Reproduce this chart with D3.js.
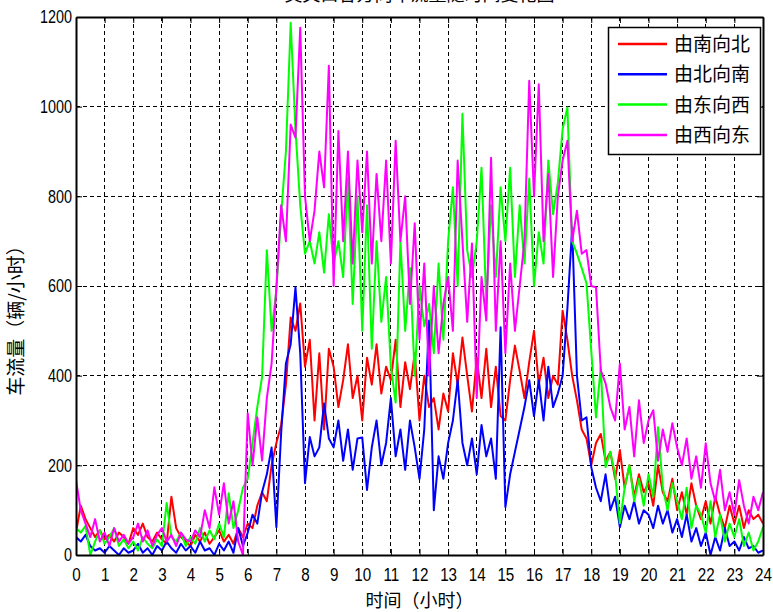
<!DOCTYPE html>
<html><head><meta charset="utf-8">
<script src="https://cdn.jsdelivr.net/npm/d3@7"></script>
<style>body{margin:0;background:#fff;overflow:hidden}</style></head>
<body><svg id="c" width="773" height="612"></svg>
<script>
// time stamps every 10 minutes (hours)
const times = d3.range(145).map(i => i / 6);
const xTickLabels = ["0","1","2","3","4","5","6","7","8","9","10","11","12","13","14","15","16","17","18","19","20","21","22","23","24"];
const yTickLabels = ["0","200","400","600","800","1000","1200"];
const seriesNames = ["由南向北","由北向南","由东向西","由西向东"];
const seriesColors = ["#ff0000","#0000ff","#00ff00","#ff00ff"];

const southNorth = [
 50,110,80,60,40,55, 35,45,30,50,40,25, 60,45,70,40,30,50, 35,25,130,60,40,30,
 20,45,30,50,25,40, 55,30,45,25,60,40, 70,60,110,140,120,200, 250,290,380,530,500,561,
 420,480,300,450,280,460, 420,330,390,470,350,400, 300,440,380,470,360,420, 390,480,330,430,370,450,
 300,400,330,350,280,360, 320,450,380,485,400,320, 440,350,460,330,420,310, 300,390,467,410,350,430,
 500,380,440,350,400,380, 545,480,400,345,280,260, 200,250,270,210,230,170, 234,150,200,130,180,140,
 160,110,200,140,120,170, 100,140,90,160,110,80, 120,70,130,90,60,110, 70,110,60,100,80,90, 70];
const northSouth = [
 40,30,45,20,10,15, 5,20,10,0,15,5, 10,25,5,15,0,20, 10,30,15,5,25,10,
 20,5,30,10,15,0, 25,10,30,5,60,20, 50,90,70,140,180,240, 62,272,427,470,597,450,
 160,263,220,240,338,260, 240,300,210,280,190,260, 262,145,240,300,200,250, 350,220,280,190,300,240,
 170,280,523,100,220,170, 250,300,390,250,200,260, 180,290,220,260,170,508, 107,180,230,280,330,390,
 310,390,300,420,330,360, 400,550,730,400,300,307, 196,150,120,180,100,130, 62,110,80,120,70,100,
 90,60,110,70,100,50, 80,40,90,30,60,20, 50,0,40,10,60,20, 30,10,40,15,20,5, 10];
const eastWest = [
 60,50,65,0,30,55, 25,40,60,20,35,15, 30,10,40,25,15,35, 20,116,40,30,50,20,
 40,25,60,30,55,35, 70,40,138,60,100,150, 170,250,330,397,680,500, 590,760,900,1187,950,780,
 672,700,650,720,630,760, 650,700,620,840,560,800, 500,780,460,700,520,620, 420,340,700,500,640,400,
 600,510,560,450,650,480, 700,820,600,984,680,620, 700,864,560,780,620,820, 700,864,620,780,650,840,
 600,720,650,880,760,830, 950,998,700,672,640,606, 456,307,419,196,230,180, 71,150,200,120,170,110,
 180,130,285,150,100,160, 120,80,150,60,110,90, 50,120,40,90,30,70, 40,80,20,50,10,30, 62];
const westEast = [
 167,100,70,40,80,30, 50,20,60,30,45,25, 40,70,30,55,20,45, 60,30,45,20,50,35,
 30,55,40,100,60,151, 90,160,70,120,30,0, 316,200,307,211,350,427, 597,780,700,960,931,1176,
 800,700,768,900,820,1091, 600,946,700,900,650,880, 720,900,650,850,700,880, 650,924,700,800,560,740,
 480,650,400,600,450,560, 620,500,880,700,520,695, 350,620,523,886,500,700, 450,650,500,600,700,1058,
 800,1050,700,850,620,800, 880,924,700,768,672,680, 600,597,412,383,330,300, 427,280,330,220,345,250,
 300,323,210,280,230,294, 240,200,260,170,220,150, 249,160,120,190,100,140, 90,167,110,70,130,100, 140];

const seriesValues = [southNorth, northSouth, eastWest, westEast];

const W = 773, H = 612;
const m = {l: 76, r: 763, t: 17, b: 555};
const svg = d3.select("#c");
svg.append("rect").attr("width", W).attr("height", H).attr("fill", "#fff");

const x = d3.scaleLinear().domain([0, 24]).range([m.l, m.r]);
const y = d3.scaleLinear().domain([0, 1200]).range([m.b, m.t]);
const xTicks = xTickLabels.map(Number);
const yTicks = yTickLabels.map(Number);

const font = "'Liberation Sans', Arial, sans-serif";
const cjk = "'Noto Sans CJK SC', sans-serif";

// title (clipped at top, as in the source image)
svg.append("text").attr("x", (m.l + m.r) / 2).attr("y", 1)
  .attr("text-anchor", "middle").attr("font-family", cjk).attr("font-size", 18)
  .attr("fill", "#000").text("交叉口各方向车流量随时间变化图");

// grid
const grid = svg.append("g").attr("stroke", "#000").attr("stroke-width", 1)
  .attr("stroke-dasharray", "4,3").attr("shape-rendering", "crispEdges");
grid.selectAll(".gx").data(xTicks.slice(1, -1)).join("line")
  .attr("x1", d => x(d)).attr("x2", d => x(d)).attr("y1", m.t).attr("y2", m.b);
grid.selectAll(".gy").data(yTicks.slice(1, -1)).join("line")
  .attr("y1", d => y(d)).attr("y2", d => y(d)).attr("x1", m.l).attr("x2", m.r);

// lines
svg.append("clipPath").attr("id", "pc").append("rect")
  .attr("x", m.l).attr("y", m.t).attr("width", m.r - m.l).attr("height", m.b - m.t);
const line = d3.line().x((d, i) => x(times[i])).y(d => y(d));
const lg = svg.append("g").attr("clip-path", "url(#pc)");
seriesValues.forEach((vals, k) => {
  lg.append("path").datum(vals).attr("d", line).attr("fill", "none")
    .attr("stroke", seriesColors[k]).attr("stroke-width", 2).attr("stroke-linejoin", "round");
});

// axes
const fmtX = (d, i) => xTickLabels[i];
const fmtY = (d, i) => yTickLabels[i];
const gx = svg.append("g").attr("transform", `translate(0,${m.b})`)
  .call(d3.axisBottom(x).tickValues(xTicks).tickFormat(fmtX).tickSize(-6).tickSizeOuter(0).tickPadding(13));
const gy = svg.append("g").attr("transform", `translate(${m.l},0)`)
  .call(d3.axisLeft(y).tickValues(yTicks).tickFormat(fmtY).tickSize(-6).tickSizeOuter(0).tickPadding(4));
const gt = svg.append("g").attr("transform", `translate(0,${m.t})`)
  .call(d3.axisTop(x).tickValues(xTicks).tickFormat("").tickSize(-6).tickSizeOuter(0));
const gr = svg.append("g").attr("transform", `translate(${m.r},0)`)
  .call(d3.axisRight(y).tickValues(yTicks).tickFormat("").tickSize(-6).tickSizeOuter(0));
[gx, gy, gt, gr].forEach(g => {
  g.select(".domain").attr("stroke", "#000").attr("stroke-width", 2);
  g.selectAll(".tick line").attr("stroke", "#000").attr("stroke-width", 1);
});
const sx = 0.8;
gx.selectAll("text").attr("font-family", font).attr("font-size", 19).attr("fill", "#000")
  .attr("transform", `scale(${sx},1)`);
gy.selectAll("text").attr("font-family", font).attr("font-size", 18).attr("fill", "#000")
  .attr("x", -4 / sx).attr("transform", `scale(${sx},1)`);

// axis titles
svg.append("text").attr("x", (m.l + m.r) / 2).attr("y", 607).attr("text-anchor", "middle")
  .attr("font-family", cjk).attr("font-size", 18).attr("fill", "#000").text("时间（小时）");
svg.append("text").attr("transform", `translate(23,${(m.t + m.b) / 2 + 30}) rotate(-90)`)
  .attr("text-anchor", "middle").attr("font-family", cjk).attr("font-size", 19)
  .attr("fill", "#000").text("车流量（辆/小时）");

// legend
const leg = svg.append("g");
leg.append("rect").attr("x", 608.5).attr("y", 27.5).attr("width", 152).attr("height", 127)
  .attr("fill", "#fff").attr("stroke", "#000").attr("stroke-width", 1.5);
seriesNames.forEach((n, k) => {
  const yy = 44 + k * 30.3;
  leg.append("line").attr("x1", 618).attr("x2", 667).attr("y1", yy).attr("y2", yy)
    .attr("stroke", seriesColors[k]).attr("stroke-width", 2.5);
  leg.append("text").attr("x", 674).attr("y", yy + 7).attr("font-family", cjk)
    .attr("font-size", 19).attr("fill", "#000").text(n);
});
</script></body></html>
